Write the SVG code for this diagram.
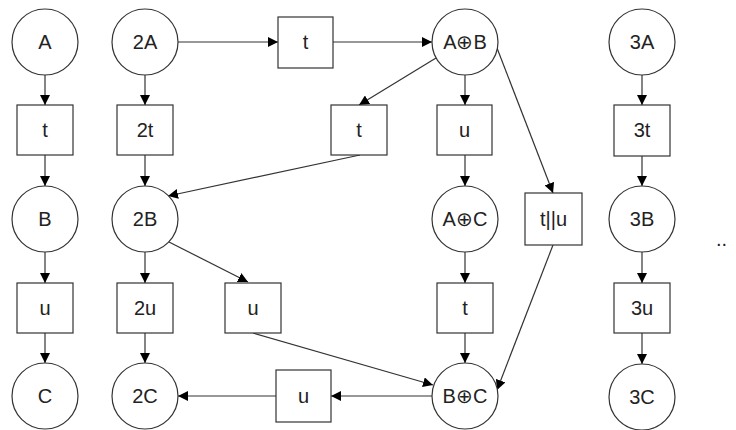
<svg xmlns="http://www.w3.org/2000/svg" width="736" height="430" viewBox="0 0 736 430">
<defs>
<marker id="ah" markerUnits="userSpaceOnUse" markerWidth="10" markerHeight="10" refX="10" refY="5" orient="auto">
<path d="M0,0 L10,5 L0,10 z" fill="#000"/>
</marker>
<style>
.p{fill:#fff;stroke:#333;stroke-width:1.2}
.tr{fill:#fff;stroke:#333;stroke-width:1.2}
text{font-family:"Liberation Sans",Arial,sans-serif;font-size:20px;fill:#222;text-anchor:middle;dominant-baseline:central}
.e{fill:none;stroke:#333;stroke-width:1.2;marker-end:url(#ah)}
</style>
</defs>
<rect width="736" height="430" fill="#fff"/>
<g id="connectors">
<line class="e" x1="45" y1="75" x2="45" y2="105"/>
<line class="e" x1="45" y1="155" x2="45" y2="186"/>
<line class="e" x1="45" y1="252" x2="45" y2="283"/>
<line class="e" x1="45" y1="333" x2="45" y2="363"/>
<line class="e" x1="145" y1="75" x2="145" y2="105"/>
<line class="e" x1="145" y1="155" x2="145" y2="186"/>
<line class="e" x1="145" y1="252" x2="145" y2="283"/>
<line class="e" x1="145" y1="333" x2="145" y2="363"/>
<line class="e" x1="178" y1="42" x2="278" y2="42"/>
<line class="e" x1="333" y1="42" x2="432" y2="42"/>
<line class="e" x1="436" y1="58" x2="359" y2="105"/>
<line class="e" x1="465" y1="75" x2="465" y2="105"/>
<line class="e" x1="465" y1="155" x2="465" y2="186"/>
<line class="e" x1="465" y1="252" x2="465" y2="283"/>
<line class="e" x1="465" y1="333" x2="465" y2="363"/>
<line class="e" x1="497" y1="48" x2="553" y2="193"/>
<line class="e" x1="553" y1="245" x2="497" y2="390"/>
<line class="e" x1="360" y1="155" x2="168" y2="196"/>
<line class="e" x1="169" y1="242" x2="248" y2="282"/>
<line class="e" x1="253" y1="333" x2="433" y2="385"/>
<line class="e" x1="432" y1="396" x2="331" y2="396"/>
<line class="e" x1="276" y1="396" x2="178" y2="396"/>
<line class="e" x1="642" y1="75" x2="642" y2="105"/>
<line class="e" x1="642" y1="156" x2="642" y2="186"/>
<line class="e" x1="642" y1="252" x2="642" y2="283"/>
<line class="e" x1="642" y1="333" x2="642" y2="364"/>
</g>
<g id="A"><circle class="p" cx="45" cy="42" r="33"/><text x="45" y="42">A</text></g>
<g id="t1"><rect class="tr" x="17" y="105" width="56" height="50"/><text x="45" y="130">t</text></g>
<g id="B"><circle class="p" cx="45" cy="219" r="33"/><text x="45" y="219">B</text></g>
<g id="u1"><rect class="tr" x="17" y="283" width="56" height="50"/><text x="45" y="308">u</text></g>
<g id="C"><circle class="p" cx="45" cy="396" r="33"/><text x="45" y="396">C</text></g>
<g id="A2"><circle class="p" cx="145" cy="42" r="33"/><text x="145" y="42">2A</text></g>
<g id="t2"><rect class="tr" x="117" y="105" width="56" height="50"/><text x="145" y="130">2t</text></g>
<g id="B2"><circle class="p" cx="145" cy="219" r="33"/><text x="145" y="219">2B</text></g>
<g id="u2"><rect class="tr" x="117" y="283" width="56" height="50"/><text x="145" y="308">2u</text></g>
<g id="C2"><circle class="p" cx="145" cy="396" r="33"/><text x="145" y="396">2C</text></g>
<g id="tTop"><rect class="tr" x="278" y="17" width="55" height="51"/><text x="305.5" y="42">t</text></g>
<g id="tMid"><rect class="tr" x="331" y="105" width="56" height="50"/><text x="359" y="130">t</text></g>
<g id="uMid"><rect class="tr" x="225" y="283" width="56" height="50"/><text x="253" y="308">u</text></g>
<g id="uBot"><rect class="tr" x="276" y="370" width="55" height="52"/><text x="303.5" y="396">u</text></g>
<g id="AB"><circle class="p" cx="465" cy="42" r="33"/><text x="465" y="42">A⊕B</text></g>
<g id="uR"><rect class="tr" x="437" y="105" width="55" height="50"/><text x="464.5" y="130">u</text></g>
<g id="AC"><circle class="p" cx="465" cy="219" r="33"/><text x="465" y="219">A⊕C</text></g>
<g id="tR"><rect class="tr" x="437" y="283" width="56" height="50"/><text x="465" y="308">t</text></g>
<g id="BC"><circle class="p" cx="465" cy="396" r="33"/><text x="465" y="396">B⊕C</text></g>
<g id="tu"><rect class="tr" x="525" y="193" width="57" height="52"/><text x="553.5" y="219">t||u</text></g>
<g id="A3"><circle class="p" cx="642" cy="42" r="33"/><text x="642" y="42">3A</text></g>
<g id="t3"><rect class="tr" x="614" y="105" width="56" height="51"/><text x="642" y="130">3t</text></g>
<g id="B3"><circle class="p" cx="642" cy="219" r="33"/><text x="642" y="219">3B</text></g>
<g id="u3"><rect class="tr" x="614" y="283" width="56" height="50"/><text x="642" y="308">3u</text></g>
<g id="C3"><circle class="p" cx="642" cy="397" r="33"/><text x="642" y="397">3C</text></g>
<text x="716" y="239" style="text-anchor:start">..</text>
</svg>
